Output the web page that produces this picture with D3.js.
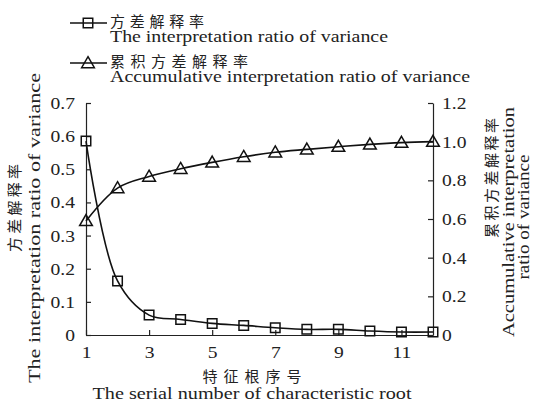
<!DOCTYPE html>
<html>
<head>
<meta charset="utf-8">
<script src="https://cdn.jsdelivr.net/npm/d3@7"></script>
<style>
  body { margin: 0; background: #fff; }
  text { font-family: "Liberation Serif", "Times New Roman", serif; fill: #222; }
  .cn { font-family: "Noto Sans CJK SC", sans-serif; }
</style>
</head>
<body>
<div id="chart"></div>
<script>
// data
var roots = [1, 2, 3, 4, 5, 6, 7, 8, 9, 10, 11, 12];
var ratio = [0.585, 0.163, 0.06, 0.047, 0.035, 0.029, 0.022, 0.017, 0.017, 0.012, 0.009, 0.009];
var cumRatio = [0.59, 0.76, 0.82, 0.86, 0.893, 0.922, 0.945, 0.96, 0.974, 0.986, 0.995, 1.0];
var xTicks = [1, 3, 5, 7, 9, 11];
var leftTicks = [0, 0.1, 0.2, 0.3, 0.4, 0.5, 0.6, 0.7];
var rightTicks = [0, 0.2, 0.4, 0.6, 0.8, 1.0, 1.2];

var W = 535, H = 406;
var margin = {top: 103, right: 102, bottom: 71, left: 86},
    width = W - margin.left - margin.right,
    height = H - margin.top - margin.bottom;

var svg = d3.select("#chart").append("svg")
    .attr("width", W)
    .attr("height", H);

var g = svg.append("g")
    .attr("transform", "translate(" + margin.left + "," + margin.top + ")");

var x = d3.scaleLinear().domain([1, 12]).range([0, width]);
var yL = d3.scaleLinear().domain([0, 0.7]).range([height, 0]);
var yR = d3.scaleLinear().domain([0, 1.2]).range([height, 0]);

// the type in the picture is a little wider than Liberation Serif, so stretch it
function stretch(sel, k) {
    sel.each(function() {
        var len = this.getComputedTextLength();
        d3.select(this).attr("textLength", len * k).attr("lengthAdjust", "spacingAndGlyphs");
    });
}
function fixLength(sel, len, adjust) {
    sel.attr("textLength", len).attr("lengthAdjust", adjust || "spacingAndGlyphs");
}

var fmt = function(d) { return d === 0 ? "0" : d3.format(".1f")(d); };

// axes, ticks pointing inward
var xAxis = g.append("g")
    .attr("transform", "translate(0," + height + ")")
    .call(d3.axisBottom(x).tickValues(xTicks).tickSizeInner(-5).tickSizeOuter(0).tickPadding(11).tickFormat(d3.format("d")));
var leftAxis = g.append("g")
    .call(d3.axisLeft(yL).tickValues(leftTicks).tickSizeInner(-5).tickSizeOuter(0).tickPadding(11).tickFormat(fmt));
var rightAxis = g.append("g")
    .attr("transform", "translate(" + width + ",0)")
    .call(d3.axisRight(yR).tickValues(rightTicks).tickSizeInner(-5).tickSizeOuter(0).tickPadding(9).tickFormat(fmt));

[xAxis, leftAxis, rightAxis].forEach(function(a) {
    a.selectAll("path, line").attr("stroke", "#222").attr("stroke-width", 1.2);
    a.selectAll("text").attr("font-family", "Liberation Serif").attr("font-size", 17).attr("fill", "#222");
    stretch(a.selectAll("text"), 1.15);
});

// lines
var lineL = d3.line()
    .x(function(d, i) { return x(roots[i]); })
    .y(function(d) { return yL(d); })
    .curve(d3.curveCatmullRom.alpha(0.5));
var lineR = d3.line()
    .x(function(d, i) { return x(roots[i]); })
    .y(function(d) { return yR(d); })
    .curve(d3.curveCatmullRom.alpha(0.5));

g.append("path")
    .datum(ratio)
    .attr("fill", "none")
    .attr("stroke", "#111")
    .attr("stroke-width", 1.6)
    .attr("d", lineL);
g.append("path")
    .datum(cumRatio)
    .attr("fill", "none")
    .attr("stroke", "#111")
    .attr("stroke-width", 1.6)
    .attr("d", lineR);

var square = d3.symbol().type(d3.symbolSquare).size(90);
var triangle = d3.symbol().type(d3.symbolTriangle).size(70);

g.selectAll(".sq")
    .data(ratio)
    .enter().append("path")
    .attr("class", "sq")
    .attr("d", square)
    .attr("transform", function(d, i) { return "translate(" + x(roots[i]) + "," + yL(d) + ")"; })
    .attr("fill", "none")
    .attr("stroke", "#111")
    .attr("stroke-width", 1.5);
g.selectAll(".tri")
    .data(cumRatio)
    .enter().append("path")
    .attr("class", "tri")
    .attr("d", triangle)
    .attr("transform", function(d, i) { return "translate(" + x(roots[i]) + "," + (yR(d) + 1) + ")"; })
    .attr("fill", "none")
    .attr("stroke", "#111")
    .attr("stroke-width", 1.5);

// legend
var legend = [
    {cn: "方差解释率", en: "The interpretation ratio of variance", sym: square, y: 23, cnLen: 94, enLen: 278},
    {cn: "累积方差解释率", en: "Accumulative interpretation ratio of variance", sym: triangle, y: 63, cnLen: 138, enLen: 360}
];
legend.forEach(function(l) {
    svg.append("line")
        .attr("x1", 70).attr("x2", 107)
        .attr("y1", l.y).attr("y2", l.y)
        .attr("stroke", "#111").attr("stroke-width", 1.6);
    svg.append("path")
        .attr("d", l.sym)
        .attr("transform", "translate(88," + (l.y + (l.sym === triangle ? 1 : 0)) + ")")
        .attr("fill", "none").attr("stroke", "#111").attr("stroke-width", 1.5);
    svg.append("text")
        .attr("class", "cn")
        .attr("x", 110).attr("y", l.y + 4)
        .attr("font-size", 15)
        .call(fixLength, l.cnLen, "spacing")
        .text(l.cn);
    svg.append("text")
        .attr("x", 110).attr("y", l.y + 19)
        .attr("font-size", 17)
        .call(fixLength, l.enLen)
        .text(l.en);
});

// x axis title
svg.append("text")
    .attr("class", "cn")
    .attr("x", 252).attr("y", 382)
    .attr("text-anchor", "middle")
    .attr("font-size", 15)
    .call(fixLength, 99, "spacing")
    .text("特征根序号");
svg.append("text")
    .attr("x", 252).attr("y", 399)
    .attr("text-anchor", "middle")
    .attr("font-size", 17)
    .call(fixLength, 319)
    .text("The serial number of characteristic root");

// left y title
svg.append("text")
    .attr("class", "cn")
    .attr("transform", "translate(20,208) rotate(-90)")
    .attr("text-anchor", "middle")
    .attr("font-size", 15)
    .call(fixLength, 88, "spacing")
    .text("方差解释率");
svg.append("text")
    .attr("transform", "translate(40,228) rotate(-90)")
    .attr("text-anchor", "middle")
    .attr("font-size", 17)
    .call(fixLength, 310)
    .text("The interpretation ratio of variance");

// right y title
svg.append("text")
    .attr("class", "cn")
    .attr("transform", "translate(497,178) rotate(-90)")
    .attr("text-anchor", "middle")
    .attr("font-size", 15)
    .call(fixLength, 120, "spacing")
    .text("累积方差解释率");
svg.append("text")
    .attr("transform", "translate(514,222) rotate(-90)")
    .attr("text-anchor", "middle")
    .attr("font-size", 17)
    .call(fixLength, 230)
    .text("Accumulative interpretation");
svg.append("text")
    .attr("transform", "translate(529,217) rotate(-90)")
    .attr("text-anchor", "middle")
    .attr("font-size", 17)
    .call(fixLength, 125)
    .text("ratio of variance");
</script>
</body>
</html>
